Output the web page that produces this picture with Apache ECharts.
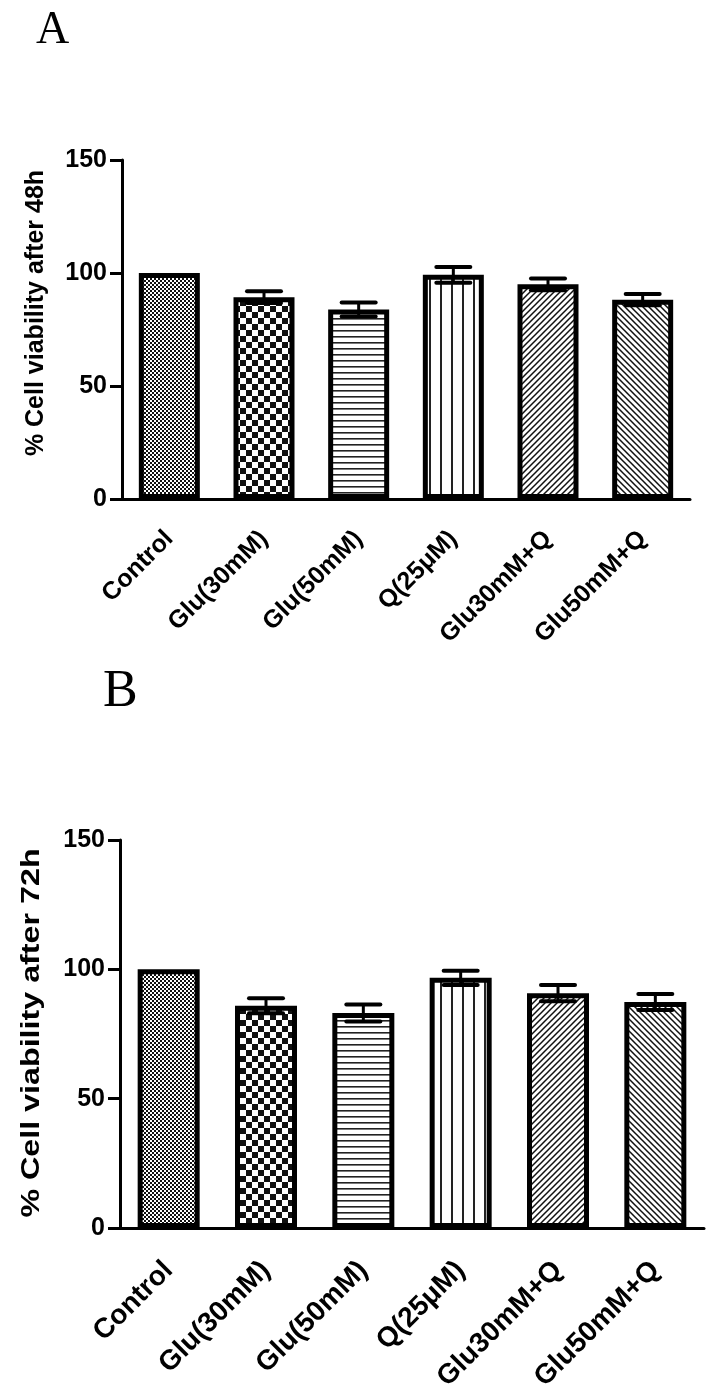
<!DOCTYPE html>
<html>
<head>
<meta charset="utf-8">
<script src="https://cdn.jsdelivr.net/npm/echarts@6/dist/echarts.min.js"></script>
<style>
html,body{margin:0;padding:0;background:#fff;}
#chart{width:712px;height:1397px;}
</style>
</head>
<body>
<div id="chart"></div>
<script>
// ---- data ----
const categories = ['Control', 'Glu(30mM)', 'Glu(50mM)', 'Q(25\u03bcM)', 'Glu30mM+Q', 'Glu50mM+Q'];
const meanA = [100, 89.3, 83.9, 99.2, 95.0, 88.2];
const semA  = [0, 2.6, 3.1, 3.5, 2.6, 2.5];
const meanB = [100, 85.9, 83.1, 96.7, 90.8, 87.4];
const semB  = [0, 2.9, 3.3, 2.8, 3.1, 3.1];
const yTicks = [0, 50, 100, 150];
const yNameA = '% Cell viability after 48h';
const yNameB = '% Cell viability after 72h';
const panelA = 'A';
const panelB = 'B';

// ---- patterns ----
function makePattern(w, h, draw) {
  const c = document.createElement('canvas');
  c.width = w; c.height = h;
  const ctx = c.getContext('2d');
  ctx.fillStyle = '#fff';
  ctx.fillRect(0, 0, w, h);
  ctx.fillStyle = '#111';
  ctx.strokeStyle = '#111';
  draw(ctx, w, h);
  return { image: c, repeat: 'repeat' };
}
const patterns = [
  makePattern(4, 4, (ctx) => { ctx.fillRect(0, 0, 2, 2); ctx.fillRect(2, 2, 2, 2); }),
  makePattern(12, 12, (ctx) => { ctx.fillRect(0, 0, 6, 6); ctx.fillRect(6, 6, 6, 6); }),
  makePattern(6, 6, (ctx) => { ctx.fillStyle = '#222'; ctx.fillRect(0, 0, 6, 1.6); }),
  makePattern(11, 11, (ctx) => { ctx.fillStyle = '#222'; ctx.fillRect(0, 0, 2, 11); }),
  makePattern(6, 6, (ctx) => {
    ctx.lineWidth = 1.5;
    ctx.beginPath();
    ctx.moveTo(0, 6); ctx.lineTo(6, 0);
    ctx.moveTo(-1, 1); ctx.lineTo(1, -1);
    ctx.moveTo(5, 7); ctx.lineTo(7, 5);
    ctx.stroke();
  }),
  makePattern(6, 6, (ctx) => {
    ctx.lineWidth = 1.5;
    ctx.beginPath();
    ctx.moveTo(0, 0); ctx.lineTo(6, 6);
    ctx.moveTo(5, -1); ctx.lineTo(7, 1);
    ctx.moveTo(-1, 5); ctx.lineTo(1, 7);
    ctx.stroke();
  })
];

const FONT = 'Liberation Sans, Arial, sans-serif';
const SERIF = 'Liberation Serif, Times New Roman, serif';

function barData(means) {
  return means.map((v, i) => ({ value: v, itemStyle: { color: patterns[i] } }));
}
function errData(means, sems) {
  return means.map((v, i) => [i, v, sems[i]]);
}
function renderErr(params, api) {
  const e = api.value(2);
  if (!e) return null;
  const x = api.value(0), m = api.value(1);
  const top = api.coord([x, m + e]);
  const bot = api.coord([x, m - e]);
  const hw = 17;
  const st = { stroke: '#000', lineWidth: 4, lineCap: 'round' };
  return {
    type: 'group',
    children: [
      { type: 'line', shape: { x1: top[0], y1: top[1], x2: bot[0], y2: bot[1] }, style: { stroke: '#000', lineWidth: 3 } },
      { type: 'line', shape: { x1: top[0] - hw, y1: top[1], x2: top[0] + hw, y2: top[1] }, style: st },
      { type: 'line', shape: { x1: bot[0] - hw, y1: bot[1], x2: bot[0] + hw, y2: bot[1] }, style: st }
    ]
  };
}

function xAxisCfg(gi, fs, margin) {
  return {
    type: 'category', gridIndex: gi, data: categories,
    axisLine: { lineStyle: { color: '#000', width: 3 } },
    axisTick: { alignWithLabel: true, length: 10, lineStyle: { color: '#000', width: 3 } },
    axisLabel: { rotate: 45, margin: margin, color: '#000', fontFamily: FONT, fontWeight: 'bold', fontSize: fs, interval: 0 }
  };
}
function yAxisCfg(gi) {
  return {
    type: 'value', gridIndex: gi, min: yTicks[0], max: yTicks[yTicks.length - 1], interval: 50,
    splitLine: { show: false },
    axisLine: { show: true, lineStyle: { color: '#000', width: 3 } },
    axisTick: { show: true, length: 12, lineStyle: { color: '#000', width: 3 } },
    axisLabel: { margin: 15, color: '#000', fontFamily: FONT, fontWeight: 'bold', fontSize: 25,
      formatter: (v) => yTicks.indexOf(v) >= 0 ? String(v) : '' }
  };
}

const chart = echarts.init(document.getElementById('chart'), null, { renderer: 'canvas' });
chart.setOption({
  backgroundColor: '#fff',
  animation: false,
  grid: [
    { left: 122, top: 160, width: 568, height: 339 },
    { left: 120, top: 840, width: 584, height: 388 }
  ],
  xAxis: [xAxisCfg(0, 25, 36), xAxisCfg(1, 28, 38)],
  yAxis: [yAxisCfg(0), yAxisCfg(1)],
  series: [
    { type: 'bar', xAxisIndex: 0, yAxisIndex: 0, barWidth: 61, data: barData(meanA),
      itemStyle: { borderColor: '#000', borderWidth: 5 } },
    { type: 'custom', xAxisIndex: 0, yAxisIndex: 0, data: errData(meanA, semA), renderItem: renderErr, z: 5 },
    { type: 'bar', xAxisIndex: 1, yAxisIndex: 1, barWidth: 62, data: barData(meanB),
      itemStyle: { borderColor: '#000', borderWidth: 5 } },
    { type: 'custom', xAxisIndex: 1, yAxisIndex: 1, data: errData(meanB, semB), renderItem: renderErr, z: 5 }
  ],
  graphic: [
    { type: 'text', x: 36, y: 31, style: { text: panelA, fill: '#000', font: 'normal 46px ' + SERIF, align: 'left', verticalAlign: 'middle' } },
    { type: 'text', x: 103, y: 692, style: { text: panelB, fill: '#000', font: 'normal 52px ' + SERIF, align: 'left', verticalAlign: 'middle' } },
    { type: 'text', x: 36, y: 313, rotation: Math.PI / 2,
      style: { text: yNameA, fill: '#000', font: 'bold 25px ' + FONT, align: 'center', verticalAlign: 'middle' } },
    { type: 'text', x: 32, y: 1033, rotation: Math.PI / 2, scaleX: 1.29,
      style: { text: yNameB, fill: '#000', font: 'bold 25px ' + FONT, align: 'center', verticalAlign: 'middle' } }
  ]
});
</script>
</body>
</html>
